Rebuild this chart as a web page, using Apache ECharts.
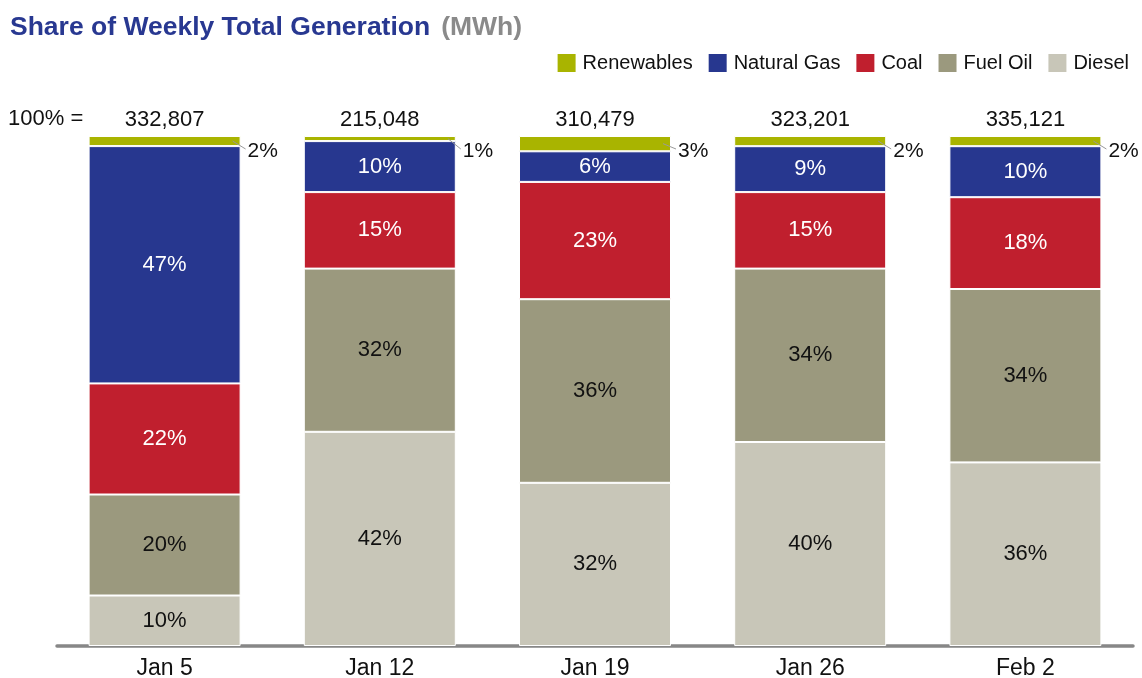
<!DOCTYPE html>
<html>
<head>
<meta charset="utf-8">
<title>Share of Weekly Total Generation</title>
<script src="https://cdn.jsdelivr.net/npm/echarts@6/dist/echarts.min.js"></script>
<style>
  html, body { margin: 0; padding: 0; background: #ffffff; }
  #chart { width: 1142px; height: 678px; }
</style>
</head>
<body>
<div id="chart"></div>
<script>
// Weeks and total weekly generation (MWh)
const weeks = ['Jan 5', 'Jan 12', 'Jan 19', 'Jan 26', 'Feb 2'];
const totals = [332807, 215048, 310479, 323201, 335121];

// Share of each fuel in the weekly total (%)
const renewables = [2, 1, 3, 2, 2];
const naturalGas = [47, 10, 6, 9, 10];
const coal = [22, 15, 23, 15, 18];
const fuelOil = [20, 32, 36, 34, 34];
const diesel = [10, 42, 32, 40, 36];

const FONT = 'Liberation Sans';
const TEXT = '#111111';
const BAR_W = 152;

const colors = {
  renewables: '#a9b400',
  naturalGas: '#27378f',
  coal: '#c01f2e',
  fuelOil: '#9b997e',
  diesel: '#c8c6b8'
};

// Rounded shares may not add up to exactly 100, so each column is scaled to fill 100%
const columnSums = weeks.map((_, i) =>
  renewables[i] + naturalGas[i] + coal[i] + fuelOil[i] + diesel[i]);
const scaled = arr => arr.map((v, i) => v / columnSums[i] * 100);

function stackSeries(name, arr, color, labelColor) {
  return {
    name: name,
    type: 'bar',
    stack: 'share',
    barWidth: BAR_W,
    xAxisIndex: 0,
    data: scaled(arr),
    itemStyle: { color: color, borderColor: '#ffffff', borderWidth: 1 },
    label: {
      show: labelColor !== null,
      position: 'inside',
      color: labelColor || TEXT,
      fontFamily: FONT,
      fontSize: 22,
      formatter: p => arr[p.dataIndex] + '%'
    },
    emphasis: { disabled: true }
  };
}

const chart = echarts.init(document.getElementById('chart'), null, { renderer: 'canvas' });

const option = {
  animation: false,
  backgroundColor: '#ffffff',
  textStyle: { fontFamily: FONT },
  title: {
    left: 5,
    top: 9,
    text: '{a|Share of Weekly Total Generation}{b|(MWh)}',
    textStyle: {
      rich: {
        a: { fontFamily: FONT, fontSize: 26.5, fontWeight: 'bold', color: '#283891' },
        b: { fontFamily: FONT, fontSize: 26.5, fontWeight: 'bold', color: '#8a8a8a', padding: [0, 0, 0, 11] }
      }
    }
  },
  legend: {
    right: 8,
    top: 47,
    icon: 'rect',
    itemWidth: 20,
    itemHeight: 20,
    itemGap: 14,
    data: ['Renewables', 'Natural Gas', 'Coal', 'Fuel Oil', 'Diesel'],
    textStyle: { fontFamily: FONT, fontSize: 20, color: TEXT, padding: [0, 0, 0, 1] },
    selectedMode: false
  },
  graphic: [{
    type: 'text',
    left: 8,
    top: 108,
    style: { text: '100% =', font: '22px ' + FONT, fill: TEXT }
  }],
  grid: { left: 57, right: 9, top: 136, bottom: 32, containLabel: false, outerBoundsMode: 'none' },
  xAxis: [{
    type: 'category',
    data: weeks,
    position: 'bottom',
    axisLine: { show: true, lineStyle: { color: '#878787', width: 3.5 } },
    axisTick: { show: false },
    axisLabel: { fontFamily: FONT, fontSize: 23, color: TEXT, margin: 11 }
  }, {
    type: 'category',
    data: totals.map(t => t.toLocaleString('en-US')),
    position: 'top',
    axisLine: { show: false },
    axisTick: { show: false },
    axisLabel: { fontFamily: FONT, fontSize: 22, color: TEXT, margin: 5 }
  }],
  yAxis: {
    type: 'value',
    min: 0,
    max: 100,
    show: false
  },
  series: [
    stackSeries('Diesel', diesel, colors.diesel, TEXT),
    stackSeries('Fuel Oil', fuelOil, colors.fuelOil, TEXT),
    stackSeries('Coal', coal, colors.coal, '#ffffff'),
    stackSeries('Natural Gas', naturalGas, colors.naturalGas, '#ffffff'),
    stackSeries('Renewables', renewables, colors.renewables, null),
    {
      // Leader line and outside label for the thin renewables segment
      name: 'Renewables label',
      type: 'custom',
      xAxisIndex: 0,
      z: 5,
      silent: true,
      data: scaled(renewables).map((v, i) => [i, v]),
      renderItem: function (params, api) {
        const i = api.value(0);
        const share = api.value(1);
        const top = api.coord([i, 100]);
        const mid = api.coord([i, 100 - share / 2]);
        const right = top[0] + BAR_W / 2;
        return {
          type: 'group',
          children: [{
            type: 'line',
            shape: { x1: right - 8, y1: mid[1], x2: right + 5, y2: top[1] + 13 },
            style: { stroke: '#9a9a9a', lineWidth: 1 }
          }, {
            type: 'text',
            style: {
              text: renewables[i] + '%',
              x: right + 7,
              y: top[1] + 15,
              textAlign: 'left',
              textVerticalAlign: 'middle',
              font: '21px ' + FONT,
              fill: TEXT
            }
          }]
        };
      }
    }
  ]
};

chart.setOption(option);
</script>
</body>
</html>
